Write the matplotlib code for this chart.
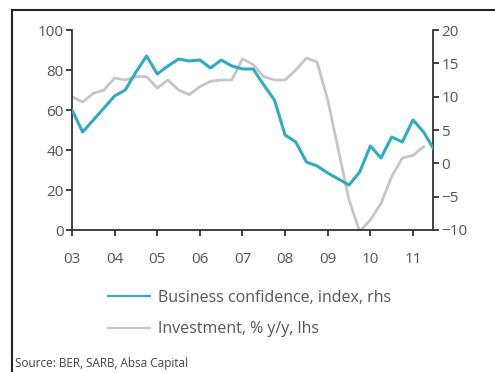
import numpy as np
import matplotlib
matplotlib.use('Agg')
import matplotlib.pyplot as plt
from matplotlib.lines import Line2D

# Quarterly series, 2003Q1 onwards
confidence = [60, 49, 55, 61, 67, 70, 79, 87, 78, 82, 85.5, 84.5,
              85, 81, 85, 82, 80.5, 80.5, 72.5, 65, 47.5, 44, 34, 32,
              28.5, 25.5, 22.5, 29, 42, 36, 46.5, 44, 55, 49, 40]
investment = [10, 9.2, 10.5, 11, 12.8, 12.5, 13, 13, 11.3, 12.5, 11, 10.3,
              11.5, 12.3, 12.5, 12.5, 15.7, 14.8, 13, 12.5, 12.5, 14, 15.8, 15.2,
              9.5, 2, -5.5, -10.2, -8.5, -6, -2, 0.8, 1.2, 2.5]
year_ticks = list(range(2003, 2012))
year_labels = ['03', '04', '05', '06', '07', '08', '09', '10', '11']
left_ticks = [0, 20, 40, 60, 80, 100]
right_ticks = [-10, -5, 0, 5, 10, 15, 20]

conf_x = 2003 + 0.25 * np.arange(len(confidence))
inv_x = 2003 + 0.25 * np.arange(len(investment))

teal = '#2fabc6'
grey = '#c6c6c6'
ink = '#555555'
spine = '#333333'

plt.rcParams['font.family'] = ['Open Sans', 'DejaVu Sans']

fig = plt.figure(figsize=(4.95, 3.72), dpi=100)
ax = fig.add_axes([72 / 495, 1 - 230 / 372, (433 - 72) / 495, 200 / 372])
ax2 = ax.twinx()

ax2.plot(inv_x, investment, color=grey, lw=2.0, zorder=1)
ax.plot(conf_x, confidence, color=teal, lw=2.2, zorder=3)
ax.set_zorder(ax2.get_zorder() + 1)
ax.patch.set_visible(False)

ax.set_xlim(2003, 2011.47)
ax.set_ylim(0, 100)
ax2.set_ylim(-10, 20)

ax.set_xticks(year_ticks)
ax.set_xticklabels(year_labels)
ax.set_yticks(left_ticks)
ax2.set_yticks(right_ticks)

for a in (ax, ax2):
    for s in a.spines.values():
        s.set_visible(False)
    a.tick_params(colors=spine, labelcolor=ink, labelsize=11, width=1.3,
                  length=4, pad=2)
ax.spines['left'].set_visible(True)
ax.spines['bottom'].set_visible(True)
ax2.spines['right'].set_visible(True)
for s in (ax.spines['left'], ax.spines['bottom'], ax2.spines['right']):
    s.set_color(spine)
    s.set_linewidth(1.3)
ax.tick_params(axis='x', pad=12)

handles = [Line2D([], [], color=teal, lw=1.5),
           Line2D([], [], color=grey, lw=1.5)]
fig.legend(handles, ['Business confidence, index, rhs',
                     'Investment, % y/y, lhs'],
           loc='upper left', bbox_to_anchor=(100 / 495, 1 - 282 / 372),
           frameon=False, fontsize=11.5, labelcolor=ink, handlelength=2.6,
           handletextpad=0.5, labelspacing=0.95, borderpad=0)

# frame lines around the panel
fig.add_artist(Line2D([12 / 495, 1], [1 - 10 / 372] * 2, color='#222222',
                      lw=1.5, transform=fig.transFigure))
fig.add_artist(Line2D([12 / 495] * 2, [0, 1 - 10 / 372], color='#222222',
                      lw=1.5, transform=fig.transFigure))

fig.text(15 / 495, 1 - 364 / 372, 'Source: BER, SARB, Absa Capital',
         fontsize=8.5, color='#444444', va='center', ha='left')

fig.savefig('out.png', dpi=100)
